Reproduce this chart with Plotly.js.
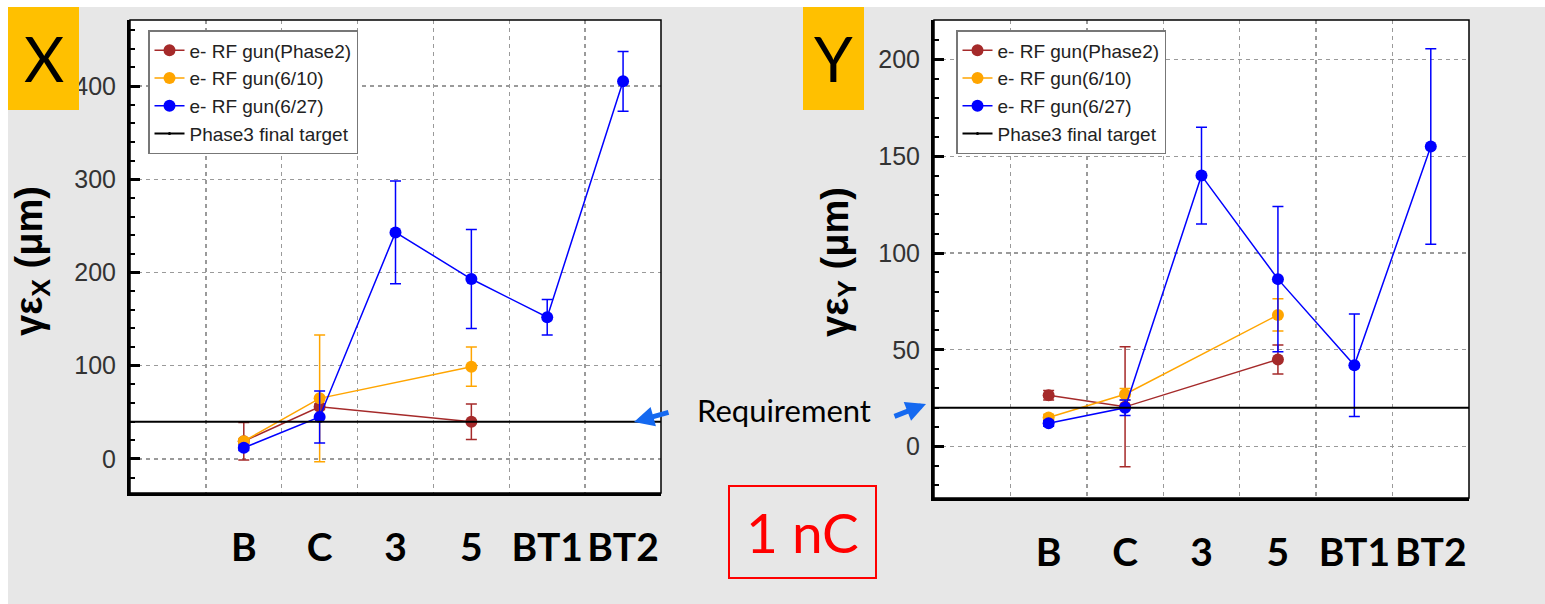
<!DOCTYPE html>
<html>
<head>
<meta charset="utf-8">
<script src="https://cdn.plot.ly/plotly-3.0.1.min.js"></script>
<style>
  html, body { margin: 0; padding: 0; background: #e7e7e7; }
  #chart { width: 1545px; height: 604px; }
</style>
</head>
<body>
<div id="chart"></div>
<script>
// ---------------- data ----------------
var categories = ['B', 'C', '3', '5', 'BT1', 'BT2'];
var seriesNames = ['e- RF gun(Phase2)', 'e- RF gun(6/10)', 'e- RF gun(6/27)', 'Phase3 final target'];

// X emittance (um)
var phase2Cats = ['B', 'C', '5'];
var phase2X    = [19, 56, 40];
var phase2XErr = [20, 3, 19];
var jun10Cats  = ['B', 'C', '5'];
var jun10X     = [19, 65, 99];
var jun10XErr  = [3, 68, 21];
var jun27Cats  = ['B', 'C', '3', '5', 'BT1', 'BT2'];
var jun27X     = [12, 45, 243, 193, 152, 405];
var jun27XErr  = [3, 28, 55, 53, 19, 32];
var targetX    = 40;

// Y emittance (um)
var phase2Y    = [26.5, 20.5, 45];
var phase2YErr = [2.5, 31, 7.5];
var jun10Y     = [15, 27, 68];
var jun10YErr  = [1.5, 3, 8.3];
var jun27Y     = [12, 20, 140, 86.5, 42, 155];
var jun27YErr  = [1.5, 4, 25, 37.5, 26.5, 50.5];
var targetY    = 20;

// ---------------- helpers ----------------
var W = 1545, H = 604;
function px(x) { return x / W; }
function py(y) { return 1 - y / H; }

var colors = ['#a52a2a', '#ffa500', '#0000ff', '#000000'];

function series(name, cats, vals, errs, color, xa, ya, leg) {
  return {
    type: 'scatter', mode: 'lines+markers', name: name,
    x: cats, y: vals, xaxis: xa, yaxis: ya, legend: leg,
    line: { color: color, width: 1.5 },
    marker: { color: color, size: 12, symbol: 'circle' },
    error_y: { type: 'data', array: errs, visible: true, color: color, thickness: 1.5, width: 5.5 },
    cliponaxis: false
  };
}
function targetLegend(xa, ya, leg) {
  return {
    type: 'scatter', mode: 'lines+markers', name: seriesNames[3],
    x: [null], y: [null], xaxis: xa, yaxis: ya, legend: leg,
    line: { color: '#000', width: 2 }, marker: { color: '#000', size: 3 }
  };
}

var traces = [
  series(seriesNames[0], phase2Cats, phase2X, phase2XErr, colors[0], 'x', 'y', 'legend'),
  series(seriesNames[1], jun10Cats, jun10X, jun10XErr, colors[1], 'x', 'y', 'legend'),
  series(seriesNames[2], jun27Cats, jun27X, jun27XErr, colors[2], 'x', 'y', 'legend'),
  targetLegend('x', 'y', 'legend'),
  series(seriesNames[0], phase2Cats, phase2Y, phase2YErr, colors[0], 'x2', 'y2', 'legend2'),
  series(seriesNames[1], jun10Cats, jun10Y, jun10YErr, colors[1], 'x2', 'y2', 'legend2'),
  series(seriesNames[2], jun27Cats, jun27Y, jun27YErr, colors[2], 'x2', 'y2', 'legend2'),
  targetLegend('x2', 'y2', 'legend2')
];

var gridStyle = { showgrid: true, gridcolor: '#9a9a9a', gridwidth: 1.3, griddash: '4px,4px' };

function xAxis(domain, anchor) {
  return Object.assign({
    domain: domain, anchor: anchor, type: 'category',
    categoryorder: 'array', categoryarray: categories,
    range: [-1.5, 5.5], tickson: 'boundaries', ticks: '',
    tickangle: 0, automargin: false,
    showline: true, linecolor: '#000', linewidth: 3,
    zeroline: false, fixedrange: true,
    tickfont: { family: 'Lato', size: 39, color: '#000', weight: 'bold' },
    ticklabelstandoff: 18
  }, gridStyle);
}
function yAxis(domain, anchor, range, dtick, minorDtick) {
  return Object.assign({
    domain: domain, anchor: anchor, range: range,
    tick0: 0, dtick: dtick, ticks: 'inside', ticklen: 10, tickwidth: 3, tickcolor: '#000',
    minor: { ticks: 'inside', ticklen: 5, tickwidth: 2, tickcolor: '#000', dtick: minorDtick, tick0: 0, showgrid: false },
    showline: true, linecolor: '#000', linewidth: 3,
    zeroline: false, fixedrange: true,
    tickfont: { family: 'Liberation Sans', size: 25, color: '#333' },
    ticklabelstandoff: 6
  }, gridStyle);
}

var legendStyle = {
  xanchor: 'left', yanchor: 'top',
  bgcolor: '#ffffff', bordercolor: '#777', borderwidth: 1.5,
  font: { family: 'Liberation Sans', size: 19, color: '#222' },
  tracegroupgap: 0
};

var layout = {
  width: W, height: H,
  margin: { l: 0, r: 0, t: 0, b: 0 },
  paper_bgcolor: '#e7e7e7', plot_bgcolor: '#ffffff',
  showlegend: true,
  xaxis: xAxis([px(130), px(661)], 'y'),
  yaxis: yAxis([py(493), py(20)], 'x', [-36.5, 470.8], 100, 20),
  xaxis2: xAxis([px(934), px(1469)], 'y2'),
  yaxis2: yAxis([py(498), py(20)], 'x2', [-26.6, 220.4], 50, 10),
  legend: Object.assign({ x: px(148), y: py(30) }, legendStyle),
  legend2: Object.assign({ x: px(956), y: py(30) }, legendStyle),
  shapes: [
    { type: 'rect', xref: 'paper', yref: 'paper', x0: 0, x1: 1, y0: py(7), y1: 1, fillcolor: '#fff', line: { width: 0 }, layer: 'below' },
    { type: 'rect', xref: 'paper', yref: 'paper', x0: 0, x1: px(8), y0: 0, y1: 1, fillcolor: '#fff', line: { width: 0 }, layer: 'below' },
    { type: 'rect', xref: 'x domain', yref: 'y domain', x0: 0, x1: 1, y0: 0, y1: 1, line: { color: '#000', width: 1.5 } },
    { type: 'rect', xref: 'x2 domain', yref: 'y2 domain', x0: 0, x1: 1, y0: 0, y1: 1, line: { color: '#000', width: 1.5 } },
    { type: 'line', xref: 'x domain', yref: 'y', x0: 0, x1: 1, y0: targetX, y1: targetX, line: { color: '#000', width: 2 } },
    { type: 'line', xref: 'x2 domain', yref: 'y2', x0: 0, x1: 1, y0: targetY, y1: targetY, line: { color: '#000', width: 2 } },
    { type: 'rect', xref: 'paper', yref: 'paper', x0: px(8), x1: px(79), y0: py(110), y1: py(7), fillcolor: '#ffc000', line: { width: 0 } },
    { type: 'rect', xref: 'paper', yref: 'paper', x0: px(803), x1: px(864), y0: py(110), y1: py(7), fillcolor: '#ffc000', line: { width: 0 } },
    { type: 'rect', xref: 'paper', yref: 'paper', x0: px(729), x1: px(876), y0: py(578), y1: py(486), line: { color: '#ff0000', width: 2 } }
  ],
  annotations: [
    { xref: 'paper', yref: 'paper', x: px(44), y: py(58), text: 'X', showarrow: false, xanchor: 'center', yanchor: 'middle',
      font: { family: 'Lato', size: 62, color: '#000' } },
    { xref: 'paper', yref: 'paper', x: px(833), y: py(58), text: 'Y', showarrow: false, xanchor: 'center', yanchor: 'middle',
      font: { family: 'Lato', size: 62, color: '#000' } },
    { xref: 'paper', yref: 'paper', x: px(32), y: py(261), text: '<b>γε<sub>X</sub> (μm)</b>', showarrow: false, textangle: -90,
      xanchor: 'center', yanchor: 'middle', font: { family: 'Liberation Sans', size: 38, color: '#000' } },
    { xref: 'paper', yref: 'paper', x: px(838), y: py(262), text: '<b>γε<sub>Y</sub> (μm)</b>', showarrow: false, textangle: -90,
      xanchor: 'center', yanchor: 'middle', font: { family: 'Liberation Sans', size: 38, color: '#000' } },
    { xref: 'paper', yref: 'paper', x: px(784), y: py(410), text: 'Requirement', showarrow: false, xanchor: 'center', yanchor: 'middle',
      font: { family: 'Lato', size: 31, color: '#000' } },
    { xref: 'paper', yref: 'paper', x: px(802), y: py(532), text: '1 nC', showarrow: false, xanchor: 'center', yanchor: 'middle',
      font: { family: 'Lato', size: 55, color: '#ff0000' } },
    { xref: 'paper', yref: 'paper', x: px(634), y: py(422), ax: 36, ay: -10, text: '', showarrow: true,
      arrowhead: 2, arrowsize: 0.8, arrowwidth: 5, arrowcolor: '#1569f0' },
    { xref: 'paper', yref: 'paper', x: px(926), y: py(404), ax: -33, ay: 13, text: '', showarrow: true,
      arrowhead: 2, arrowsize: 0.8, arrowwidth: 5, arrowcolor: '#1569f0' }
  ]
};

Plotly.newPlot('chart', traces, layout, { staticPlot: true, displayModeBar: false });
</script>
</body>
</html>
